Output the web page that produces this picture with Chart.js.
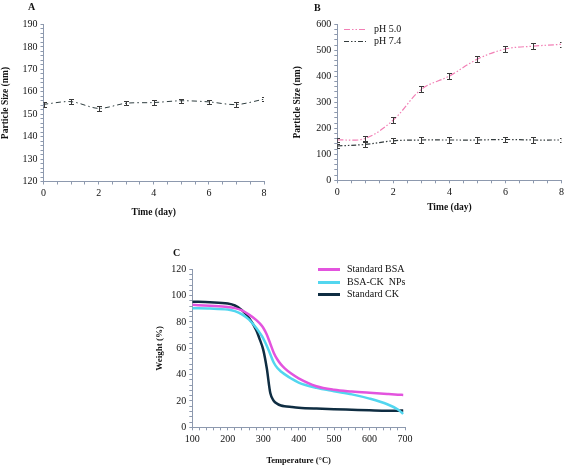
<!DOCTYPE html>
<html>
<head>
<meta charset="utf-8">
<script src="https://cdn.jsdelivr.net/npm/chart.js@4.4.0/dist/chart.umd.min.js"></script>
<style>
    html, body { margin: 0; padding: 0; background: #fff; }
    #wrap { position: relative; width: 567px; height: 467px; overflow: hidden; }
    .panel { position: absolute; }
    .tag { position: absolute; font: bold 10px 'Liberation Serif', serif; color: #111; }
</style>
</head>
<body>
<div id="wrap">
    <canvas id="chartA" class="panel" width="290" height="220" style="left:0;top:0"></canvas>
    <canvas id="chartB" class="panel" width="277" height="220" style="left:290px;top:0"></canvas>
    <canvas id="chartC" class="panel" width="300" height="242" style="left:150px;top:225px"></canvas>
    <div class="tag" style="left:28px;top:1px">A</div>
    <div class="tag" style="left:314px;top:2px">B</div>
    <div class="tag" style="left:173px;top:247px">C</div>
</div>
<script>
// Panel A / B: particle size over time
const days = [0, 1, 2, 3, 4, 5, 6, 7, 8];
const sizeA = [154.4, 155.6, 152.6, 154.9, 155.2, 156.0, 155.5, 154.3, 156.7];
const errA = [1.0, 1.0, 1.0, 1.0, 1.0, 1.0, 1.0, 1.0, 1.0];
const sizePH50 = [155, 161, 232, 350, 401, 466, 505, 516, 523];
const errPH50 = [8, 8, 10, 12, 12, 12, 12, 12, 10];
const sizePH74 = [132, 138, 152, 155, 155, 155, 157, 155, 155];
const errPH74 = [8, 8, 10, 10, 10, 10, 8, 10, 8];

// Panel C: TGA curves
const temps = [100, 150, 200, 220, 240, 260, 280, 290, 300, 310, 320, 330, 340, 350, 360, 380, 400, 450, 500, 550, 600, 650, 680, 695];
const weightBSA = [93.0, 92.3, 91.4, 90.5, 88.8, 85.6, 81.6, 79.0, 75.6, 70.5, 63.5, 56.5, 51.5, 47.8, 45.0, 40.6, 37.2, 31.2, 28.5, 27.2, 26.2, 25.3, 24.8, 24.6];
const weightNPs = [90.4, 90.2, 89.4, 88.2, 85.8, 81.8, 75.6, 71.8, 67.6, 62.0, 55.5, 49.0, 45.0, 42.4, 40.4, 36.9, 34.0, 30.0, 27.4, 25.0, 21.8, 17.5, 13.5, 10.2];
const weightCK = [95.4, 95.0, 94.0, 92.5, 89.0, 83.0, 74.0, 67.0, 59.0, 45.0, 26.0, 20.0, 17.8, 16.6, 16.0, 15.4, 14.9, 14.2, 13.7, 13.3, 12.9, 12.6, 12.6, 12.8];

const serif = 'Liberation Serif';
const axisColor = '#8d99ae';
const textColor = '#111';

function points(xs, ys) {
    return xs.map(function(x, i) { return { x: x, y: ys[i] }; });
}

// error bars drawn through the chart scales
const errorBars = {
    id: 'errorBars',
    afterDatasetsDraw(chart) {
        const { ctx, chartArea, scales } = chart;
        ctx.save();
        ctx.beginPath();
        ctx.rect(chartArea.left, chartArea.top - 10, chartArea.right - chartArea.left, chartArea.bottom - chartArea.top + 10);
        ctx.clip();
        ctx.strokeStyle = '#3a3a3a';
        ctx.lineWidth = 1;
        chart.data.datasets.forEach(function(ds) {
            if (!ds.errors) return;
            ds.data.forEach(function(p, i) {
                const x = Math.round(scales.x.getPixelForValue(p.x)) + 0.5;
                const top = Math.round(scales.y.getPixelForValue(p.y + ds.errors[i])) + 0.5;
                const bottom = Math.round(scales.y.getPixelForValue(p.y - ds.errors[i])) + 0.5;
                ctx.beginPath();
                ctx.moveTo(x, top); ctx.lineTo(x, bottom);
                ctx.moveTo(x - 2.5, top); ctx.lineTo(x + 2.5, top);
                ctx.moveTo(x - 2.5, bottom); ctx.lineTo(x + 2.5, bottom);
                ctx.stroke();
            });
        });
        ctx.restore();
    }
};

// small legend with line samples placed inside the panel
const lineLegend = {
    id: 'lineLegend',
    afterDraw(chart, args, opts) {
        if (!opts || opts.x === undefined) return;
        const ctx = chart.ctx;
        chart.data.datasets.forEach(function(ds, i) {
            const y = Math.round(opts.y + i * opts.dy) + 0.5;
            ctx.save();
            ctx.strokeStyle = ds.borderColor;
            ctx.lineWidth = opts.lineWidth || ds.borderWidth;
            ctx.setLineDash(opts.dashed ? (ds.borderDash || []) : []);
            ctx.beginPath();
            ctx.moveTo(opts.x, y);
            ctx.lineTo(opts.x + opts.len, y);
            ctx.stroke();
            ctx.restore();
            ctx.save();
            ctx.fillStyle = textColor;
            ctx.font = opts.font;
            ctx.textBaseline = 'middle';
            ctx.fillText(ds.label, opts.x + opts.len + opts.gap, y);
            ctx.restore();
        });
    }
};

function axis(opts) {
    return {
        type: 'linear',
        min: opts.min,
        max: opts.max,
        border: { color: axisColor, width: 1 },
        grid: { drawOnChartArea: false, drawTicks: true, tickLength: 3, color: axisColor },
        ticks: {
            stepSize: opts.step,
            autoSkip: false,
            maxRotation: 0,
            padding: 3,
            color: textColor,
            font: { family: serif, size: 10 },
            callback: function(value) {
                return Math.abs(value % opts.every) < 1e-6 ? String(value) : '';
            }
        },
        title: {
            display: true,
            text: opts.title,
            color: textColor,
            font: opts.titleFont,
            padding: opts.titlePadding
        },
        afterFit: opts.fit
    };
}

function baseOptions(area, xAxis, yAxis, legendOpts) {
    return {
        responsive: false,
        animation: false,
        layout: { padding: { left: 0, top: area.top, right: area.right, bottom: 0 } },
        plugins: {
            legend: { display: false },
            tooltip: { enabled: false },
            lineLegend: legendOpts
        },
        scales: { x: xAxis, y: yAxis }
    };
}

// Panel A
new Chart(document.getElementById('chartA'), {
    type: 'line',
    data: {
        datasets: [{
            label: 'Size',
            data: points(days, sizeA),
            errors: errA,
            borderColor: '#2e3d3f',
            borderWidth: 1,
            borderDash: [5, 3, 1.5, 3],
            pointRadius: 0,
            tension: 0.3
        }]
    },
    options: baseOptions(
        { top: 24.5, right: 26 },
        axis({ min: 0, max: 8, step: 0.5, every: 2, title: 'Time (day)',
            titleFont: { family: serif, size: 9.5, weight: 'bold' }, titlePadding: { top: 0, bottom: 2 },
            fit: function(s) { s.height = 220 - 181.5; } }),
        axis({ min: 120, max: 190, step: 2, every: 10, title: 'Particle Size (nm)',
            titleFont: { family: serif, size: 9.5, weight: 'bold' }, titlePadding: { top: 0, bottom: 0 },
            fit: function(s) { s.width = 43.5; } }),
        {}
    ),
    plugins: [errorBars, lineLegend]
});

// Panel B
new Chart(document.getElementById('chartB'), {
    type: 'line',
    data: {
        datasets: [{
            label: 'pH 5.0',
            data: points(days, sizePH50),
            errors: errPH50,
            borderColor: '#f27fb5',
            borderWidth: 1.2,
            borderDash: [6, 2, 1.5, 2, 1.5, 2],
            pointRadius: 0,
            tension: 0.35
        }, {
            label: 'pH 7.4',
            data: points(days, sizePH74),
            errors: errPH74,
            borderColor: '#333b3d',
            borderWidth: 1.2,
            borderDash: [5, 2, 1.5, 2, 1.5, 2],
            pointRadius: 0,
            tension: 0.35
        }]
    },
    options: baseOptions(
        { top: 24.3, right: 4.3 },
        axis({ min: 0, max: 8, step: 0.5, every: 2, title: 'Time (day)',
            titleFont: { family: serif, size: 9.5, weight: 'bold' }, titlePadding: { top: 0, bottom: 7 },
            fit: function(s) { s.height = 220 - 180.3; } }),
        axis({ min: 0, max: 600, step: 20, every: 100, title: 'Particle Size (nm)',
            titleFont: { family: serif, size: 9.5, weight: 'bold' }, titlePadding: { top: 2, bottom: 0 },
            fit: function(s) { s.width = 47.3; } }),
        { x: 54, y: 29, dy: 12, len: 22, gap: 8, dashed: true, lineWidth: 1.2, font: '10px "Liberation Serif"' }
    ),
    plugins: [errorBars, lineLegend]
});

// Panel C
new Chart(document.getElementById('chartC'), {
    type: 'line',
    data: {
        datasets: [{
            label: 'Standard BSA',
            data: points(temps, weightBSA),
            borderColor: '#e354de',
            borderWidth: 2.5,
            pointRadius: 0,
            cubicInterpolationMode: 'monotone'
        }, {
            label: 'BSA-CK  NPs',
            data: points(temps, weightNPs),
            borderColor: '#52d6ef',
            borderWidth: 2.5,
            pointRadius: 0,
            cubicInterpolationMode: 'monotone'
        }, {
            label: 'Standard CK',
            data: points(temps, weightCK),
            borderColor: '#0f2d42',
            borderWidth: 2.5,
            pointRadius: 0,
            cubicInterpolationMode: 'monotone'
        }]
    },
    options: baseOptions(
        { top: 44.3, right: 45 },
        axis({ min: 100, max: 700, step: 20, every: 100, title: 'Temperature (\u00B0C)',
            titleFont: { family: serif, size: 8.5, weight: 'bold' }, titlePadding: { top: 0, bottom: 1 },
            fit: function(s) { s.height = 242 - 202.3; } }),
        axis({ min: 0, max: 120, step: 4, every: 20, title: 'Weight (%)',
            titleFont: { family: serif, size: 9, weight: 'bold' }, titlePadding: { top: 4, bottom: 0 },
            fit: function(s) { s.width = 42.3; } }),
        { x: 168, y: 44, dy: 12.6, len: 22, gap: 7, dashed: false, lineWidth: 3, font: '10px "Liberation Serif"' }
    ),
    plugins: [lineLegend]
});
</script>
</body>
</html>
